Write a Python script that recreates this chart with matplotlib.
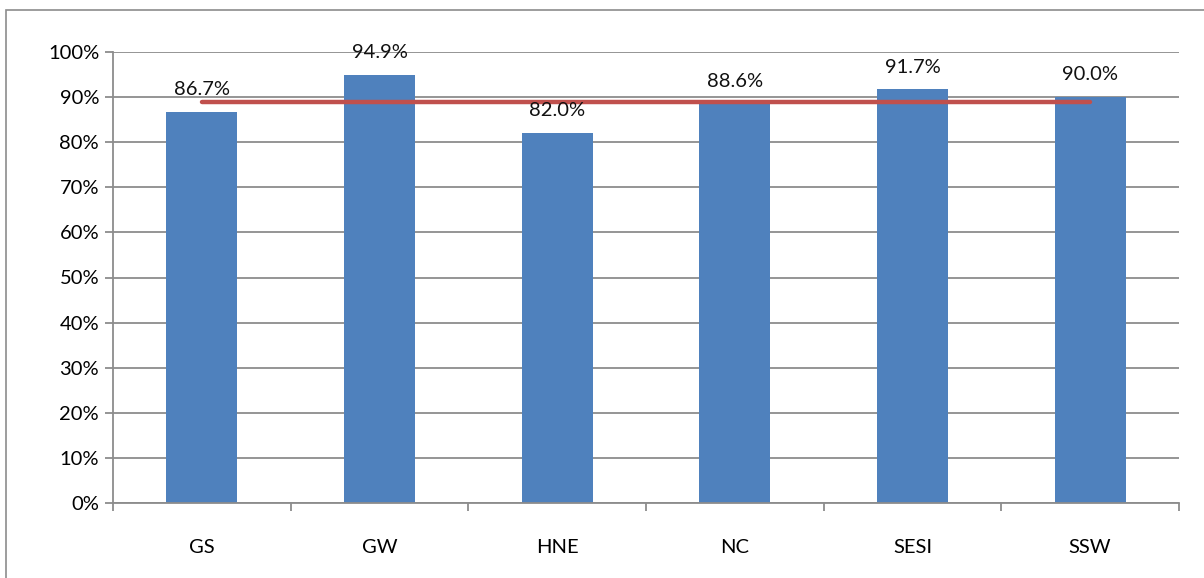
import matplotlib.pyplot as plt
import matplotlib.patches as patches
import numpy as np

plt.rcParams['font.family'] = ['Lato', 'DejaVu Sans']

regions = ['GS', 'GW', 'HNE', 'NC', 'SESI', 'SSW']
rates = [86.7, 94.9, 82.0, 88.6, 91.7, 90.0]
average = [89.0, 89.0, 89.0, 89.0, 89.0, 89.0]
y_ticks = [0, 10, 20, 30, 40, 50, 60, 70, 80, 90, 100]

W, H = 1204, 578
fig = plt.figure(figsize=(W / 100, H / 100), dpi=100)
ax = fig.add_axes([113 / W, 1 - 503 / H, (1179 - 113) / W, (503 - 52) / H])

# frame around the chart (right and bottom edges fall outside the canvas)
fig.patches.append(patches.Rectangle((6 / W, -0.02), 1.0, 1 - 10 / H + 0.02,
                                     transform=fig.transFigure, fill=False,
                                     edgecolor='#8c8c8c', linewidth=1.2))

fs = 14.5
x = np.arange(len(regions))
ax.bar(x, rates, width=0.4, color='#4F81BD', zorder=2)
ax.plot(x, average, color='#C0504D', linewidth=3.2, solid_capstyle='round', zorder=3)

for xi, v in zip(x, rates):
    ax.annotate(f'{v:.1f}%', (xi, v), xytext=(0, 10), textcoords='offset points',
                ha='center', va='bottom', fontsize=fs, color='#111111')

ax.set_xlim(-0.5, len(regions) - 0.5)
ax.set_ylim(0, 100)
ax.set_yticks(y_ticks)
ax.set_yticklabels([f'{t}%' for t in y_ticks], fontsize=fs)
ax.set_xticks(x)
ax.set_xticklabels(regions, fontsize=fs)
ax.set_xticks(np.arange(-0.5, len(regions)), minor=True)

ax.grid(axis='y', color='#8c8c8c', linewidth=1.3, zorder=0)
ax.set_axisbelow(True)
for side in ['top', 'right']:
    ax.spines[side].set_visible(False)
for side in ['left', 'bottom']:
    ax.spines[side].set_color('#8c8c8c')
    ax.spines[side].set_linewidth(1.3)

ax.tick_params(axis='y', length=6, width=1.3, color='#8c8c8c', pad=4)
ax.tick_params(axis='x', which='major', length=0, pad=26)
ax.tick_params(axis='x', which='minor', length=6, width=1.3, color='#8c8c8c')

fig.savefig('out.png', dpi=100)
